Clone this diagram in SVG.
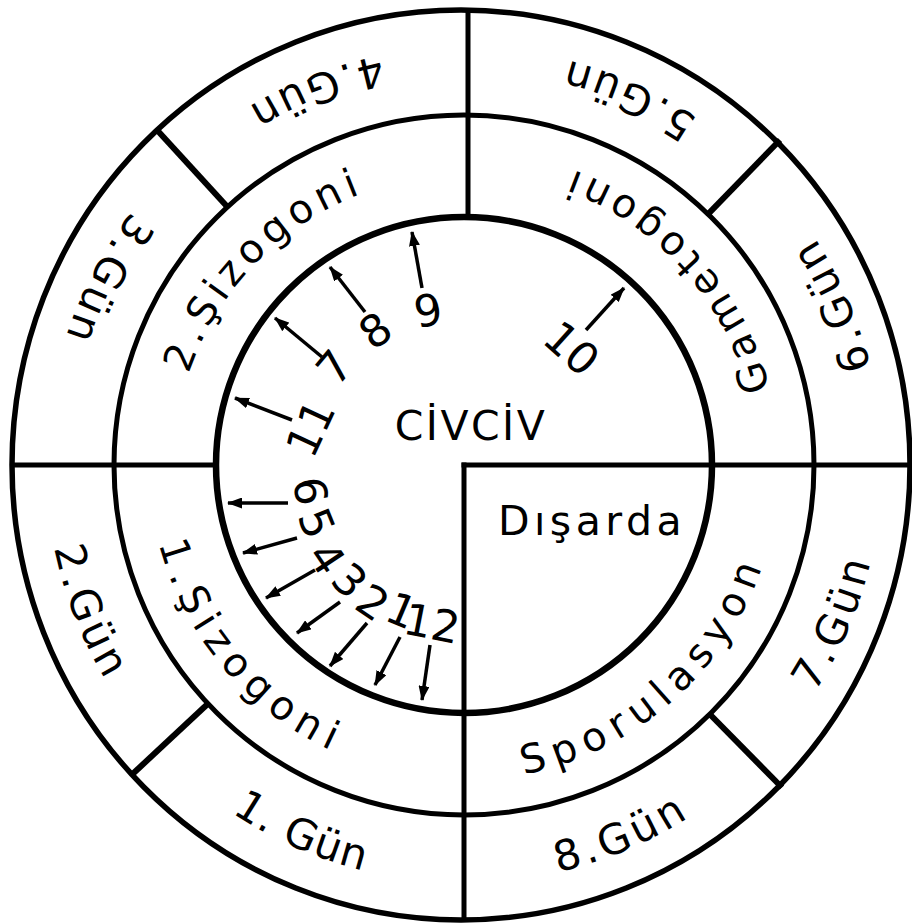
<svg xmlns="http://www.w3.org/2000/svg" width="912" height="924" viewBox="0 0 912 924">
<style>
.ring{fill:none;stroke:#000}
.ln{stroke:#000;stroke-linecap:butt}
.t{font-family:"DejaVu Sans","Liberation Sans",sans-serif;fill:#000}
.o{font-size:42px;letter-spacing:4px}
.m{font-size:40px}
.d{font-size:44px;text-anchor:middle}
.arr{stroke:#000;stroke-width:3.5;fill:none;marker-end:url(#ah)}
</style>
<defs>
<marker id="ah" markerUnits="userSpaceOnUse" markerWidth="15" markerHeight="11" refX="14" refY="5.5" orient="auto">
<path d="M0,0 L15,5.5 L0,11 Z" fill="#000"/>
</marker>
<path id="g1" d="M88.9,649.5 A418,418 0 0 0 580.6,866.4"/>
<path id="g2" d="M67.8,331.7 A418,418 0 0 0 263.9,832.0"/>
<path id="g3" d="M303.4,79.1 A418,418 0 0 0 56.1,556.2"/>
<path id="g4" d="M595.9,68.4 A418,418 0 0 0 96.3,266.2"/>
<path id="g5" d="M839.7,281.7 A418,418 0 0 0 348.8,63.2"/>
<path id="g6" d="M864.6,584.4 A418,418 0 0 0 651.1,91.2"/>
<path id="g7" d="M653.8,837.4 A418,418 0 0 0 863.7,342.8"/>
<path id="g8" d="M341.8,864.7 A418,418 0 0 0 836.4,654.8"/>
<path id="s1" d="M190.1,309.4 A315,315 0 0 0 573.8,760.2"/>
<path id="s2" d="M202.9,591.2 A290,290 0 0 1 582.9,200.5"/>
<path id="gm" d="M743.2,610.9 A315,315 0 0 0 344.0,173.8"/>
<path id="sp" d="M314.7,742.4 A315,315 0 0 0 756.7,348.5"/>
</defs>

<g id="rings">
<ellipse class="ring" cx="461" cy="465" rx="449" ry="455" stroke-width="5.5"/>
<circle class="ring" cx="464" cy="465" r="350" stroke-width="5"/>
<circle class="ring" cx="464" cy="465" r="248" stroke-width="6.5"/>
</g>

<g id="dividers">
<line class="ln" x1="468" y1="8" x2="468" y2="219" stroke-width="5"/>
<line class="ln" x1="10" y1="465" x2="217" y2="465" stroke-width="5"/>
<line class="ln" x1="464" y1="462.5" x2="464" y2="922" stroke-width="5"/>
<line class="ln" x1="461.5" y1="465" x2="912" y2="465" stroke-width="5"/>
<line class="ln" x1="228.2" y1="207.7" x2="157" y2="130" stroke-width="6"/>
<line class="ln" x1="707.3" y1="214.8" x2="780" y2="140" stroke-width="6"/>
<line class="ln" x1="208.7" y1="703.0" x2="131.5" y2="775" stroke-width="6"/>
<line class="ln" x1="709.1" y1="713.5" x2="782" y2="787.5" stroke-width="6"/>
</g>

<g id="day1"><text class="t o" style="letter-spacing:1px"><textPath href="#g1" startOffset="50%" text-anchor="middle">1. Gün</textPath></text></g>
<g id="day2"><text class="t o"><textPath href="#g2" startOffset="50%" text-anchor="middle">2.Gün</textPath></text></g>
<g id="day3"><text class="t o"><textPath href="#g3" startOffset="50%" text-anchor="middle">3.Gün</textPath></text></g>
<g id="day4"><text class="t o"><textPath href="#g4" startOffset="50%" text-anchor="middle">4.Gün</textPath></text></g>
<g id="day5"><text class="t o"><textPath href="#g5" startOffset="50%" text-anchor="middle">5.Gün</textPath></text></g>
<g id="day6"><text class="t o"><textPath href="#g6" startOffset="50%" text-anchor="middle">6.Gün</textPath></text></g>
<g id="day7"><text class="t o"><textPath href="#g7" startOffset="50%" text-anchor="middle">7.Gün</textPath></text></g>
<g id="day8"><text class="t o"><textPath href="#g8" startOffset="50%" text-anchor="middle">8.Gün</textPath></text></g>

<g id="sizogoni1"><text class="t m" style="letter-spacing:7.9px"><textPath href="#s1" startOffset="50%" text-anchor="middle">1.Şizogoni</textPath></text></g>
<g id="sizogoni2"><text class="t m" style="letter-spacing:5.6px"><textPath href="#s2" startOffset="50%" text-anchor="middle">2.Şizogoni</textPath></text></g>
<g id="gametogoni"><text class="t m" style="letter-spacing:6.7px"><textPath href="#gm" startOffset="50%" text-anchor="middle">Gametogoni</textPath></text></g>
<g id="sporulasyon"><text class="t m" style="letter-spacing:8.3px"><textPath href="#sp" startOffset="50%" text-anchor="middle">Sporulasyon</textPath></text></g>

<g id="civciv"><text class="t" x="471" y="440" font-size="41" text-anchor="middle" style="letter-spacing:2.5px">CİVCİV</text></g>
<g id="disarda"><text class="t" x="592" y="535" font-size="41" text-anchor="middle" style="letter-spacing:4.5px">Dışarda</text></g>

<g id="connectors">
<line class="arr" x1="422" y1="288" x2="412" y2="232"/>
<line class="arr" x1="365" y1="312" x2="330" y2="267"/>
<line class="arr" x1="322" y1="357" x2="275" y2="318"/>
<line class="arr" x1="292" y1="420" x2="235" y2="398"/>
<line class="arr" x1="586" y1="330" x2="624" y2="288"/>
<line class="arr" x1="288" y1="503" x2="228" y2="503"/>
<line class="arr" x1="297" y1="538" x2="243" y2="553"/>
<line class="arr" x1="315" y1="570" x2="266" y2="598"/>
<line class="arr" x1="340" y1="602" x2="297" y2="633"/>
<line class="arr" x1="367" y1="623" x2="330" y2="666"/>
<line class="arr" x1="400" y1="637" x2="375" y2="685"/>
<line class="arr" x1="430" y1="645" x2="422" y2="700"/>
</g>

<g id="numbers">
<text class="t d" transform="translate(428,310) rotate(-10)" y="16">9</text>
<text class="t d" transform="translate(375,330) rotate(-35)" y="16">8</text>
<text class="t d" transform="translate(334,367) rotate(-50)" y="16">7</text>
<text class="t d" transform="translate(310,428) rotate(-65)" y="16">11</text>
<text class="t d" transform="translate(572,348) rotate(42)" y="16">10</text>
<text class="t d" transform="translate(311,491) rotate(80)" y="16">6</text>
<text class="t d" transform="translate(317,523) rotate(68)" y="16">5</text>
<text class="t d" transform="translate(327,558) rotate(56)" y="16">4</text>
<text class="t d" transform="translate(350,580) rotate(45)" y="16">3</text>
<text class="t d" transform="translate(373,602) rotate(34)" y="16">2</text>
<text class="t d" transform="translate(402,610) rotate(23)" y="16">1</text>
<text class="t d" transform="translate(432,623) rotate(11)" y="16">12</text>
</g>
</svg>
